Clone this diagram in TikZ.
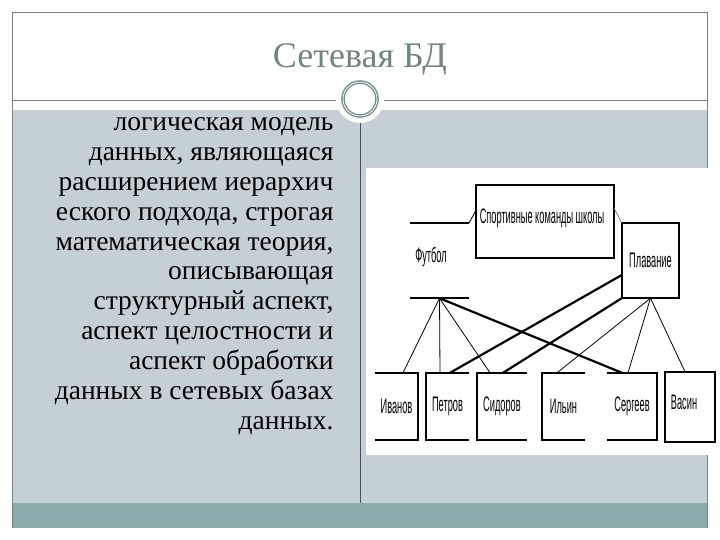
\documentclass[tikz,border=0pt]{standalone}
\usepackage{fontspec}
\setmainfont{Liberation Serif}
\setsansfont{Liberation Sans}
\usetikzlibrary{positioning}

\definecolor{bandgray}{RGB}{197,207,214}
\definecolor{bandteal}{RGB}{138,171,171}
\definecolor{titlegray}{RGB}{112,134,130}
\definecolor{ringteal}{RGB}{112,140,140}
\definecolor{framegray}{RGB}{128,128,128}

% narrow lettering of the pasted scheme
\newcommand{\sqz}[1]{\scalebox{0.44}[1]{#1}}

\tikzset{
	rec/.style={inner sep=0pt, font=\fontsize{21}{21}\selectfont\sffamily},
	frame/.style={line width=1.8pt},
	thinlink/.style={line width=0.8pt},
	thicklink/.style={line width=2.2pt}
}

\begin{document}
\begin{tikzpicture}[x=1pt,y=-1pt]
		\useasboundingbox (0,0) rectangle (720,540);
		\fill[white] (0,0) rectangle (720,540);
		
		% slide
		\fill[bandgray] (13,110) rectangle (707,503);
		\fill[bandteal] (12,503) rectangle (707,528);
		\draw[framegray,line width=0.9pt] (12.5,528) -- (12.5,12.5) -- (707.5,12.5) -- (707.5,528);
		\draw[framegray,line width=0.9pt] (12.5,100) -- (707.5,100);
		\draw[black!70,line width=0.7pt] (360,122) -- (360,503);
		\fill[white] (360,99) circle (24);
		\draw[ringteal,line width=3.6pt] (360,99) circle (17);
		\draw[white,line width=0.8pt] (360,99) circle (17);
		
		\node[anchor=base,text=titlegray,font=\fontsize{36}{36}\selectfont] (title) at (360,68) {Сетевая БД};
		\node[anchor=north east,align=right,font=\fontsize{27.5}{29.9}\selectfont] (desc) at (337,114)
			{логическая модель\\данных, являющаяся\\расширением иерархич\\еского подхода, строгая\\математическая теория,\\описывающая\\структурный аспект,\\аспект целостности и\\аспект обработки\\данных в сетевых базах\\данных.};
		
		% scheme
		\fill[white] (366,168) rectangle (717,455);
		\node[rec,minimum width=138,minimum height=73] (sport) at (545,221.5) {};
		\node[rec] (sportlbl) at (542,218) {\sqz{Спортивные команды школы}};
		\node[rec,minimum width=59,minimum height=75] (futbol) at (439.5,260.5) {};
		\node[rec] (futbollbl) at (431,257) {\sqz{Футбол}};
		\node[rec,minimum width=57,minimum height=75] (plav) at (650.5,260.5) {\sqz{Плавание}};
		\node[rec,minimum width=43,minimum height=67] (iv) at (396.5,406.5) {\sqz{Иванов}};
		\node[rec,minimum width=43,minimum height=67] (pe) at (447.5,406.5) {\sqz{Петров}};
		\node[rec,minimum width=50,minimum height=67] (si) at (502,406.5) {\sqz{Сидоров}};
		\node[rec,minimum width=43,minimum height=67] (il) at (563.5,406.5) {\sqz{Ильин}};
		\node[rec,minimum width=50,minimum height=67] (se) at (632,406.5) {\sqz{Сергеев}};
		\node[rec,minimum width=50,minimum height=70] (va) at (690,407) {};
		\node[rec] (valbl) at (684,402) {\sqz{Васин}};
		
		\draw[frame] (sport.north west) rectangle (sport.south east);
		\draw[frame] (plav.north west) rectangle (plav.south east);
		\draw[frame] (va.north west) rectangle (va.south east);
		\draw[frame] (futbol.north west) -- (futbol.north east);
		\draw[frame] (futbol.south west) -- (futbol.south east);
		\draw[frame] (iv.north west) -- (iv.north east) -- (iv.south east) -- (iv.south west);
		\draw[frame] (se.north west) -- (se.north east) -- (se.south east) -- (se.south west);
		\foreach \b in {pe,si,il}
			\draw[frame] (\b.north east) -- (\b.north west) -- (\b.south west) -- (\b.south east);
		
		\draw[thinlink] (futbol.north east) -- ([yshift=11pt]sport.west);
		\draw[thinlink,black!50] ([yshift=13pt]sport.east) -- (plav.north west);
		
		\draw[thinlink] (futbol.south) -- ([xshift=6.5pt]iv.north);
		\draw[thinlink] (futbol.south) -- ([xshift=-7.5pt]pe.north);
		\draw[thinlink] (futbol.south) -- ([xshift=-12pt]si.north);
		\draw[thicklink] (futbol.south) -- ([xshift=-10pt]se.north);
		\draw[thinlink] (plav.south) -- ([xshift=-6.5pt]il.north);
		\draw[thinlink] (plav.south) -- ([xshift=-4pt]se.north);
		\draw[thinlink] (plav.south) -- ([xshift=-5pt]va.north);
		\draw[thicklink] ([yshift=-14.5pt]plav.west) -- ([xshift=2.5pt]pe.north);
		\draw[thicklink] (plav.south west) -- ([xshift=1pt]si.north);
\end{tikzpicture}
\end{document}
